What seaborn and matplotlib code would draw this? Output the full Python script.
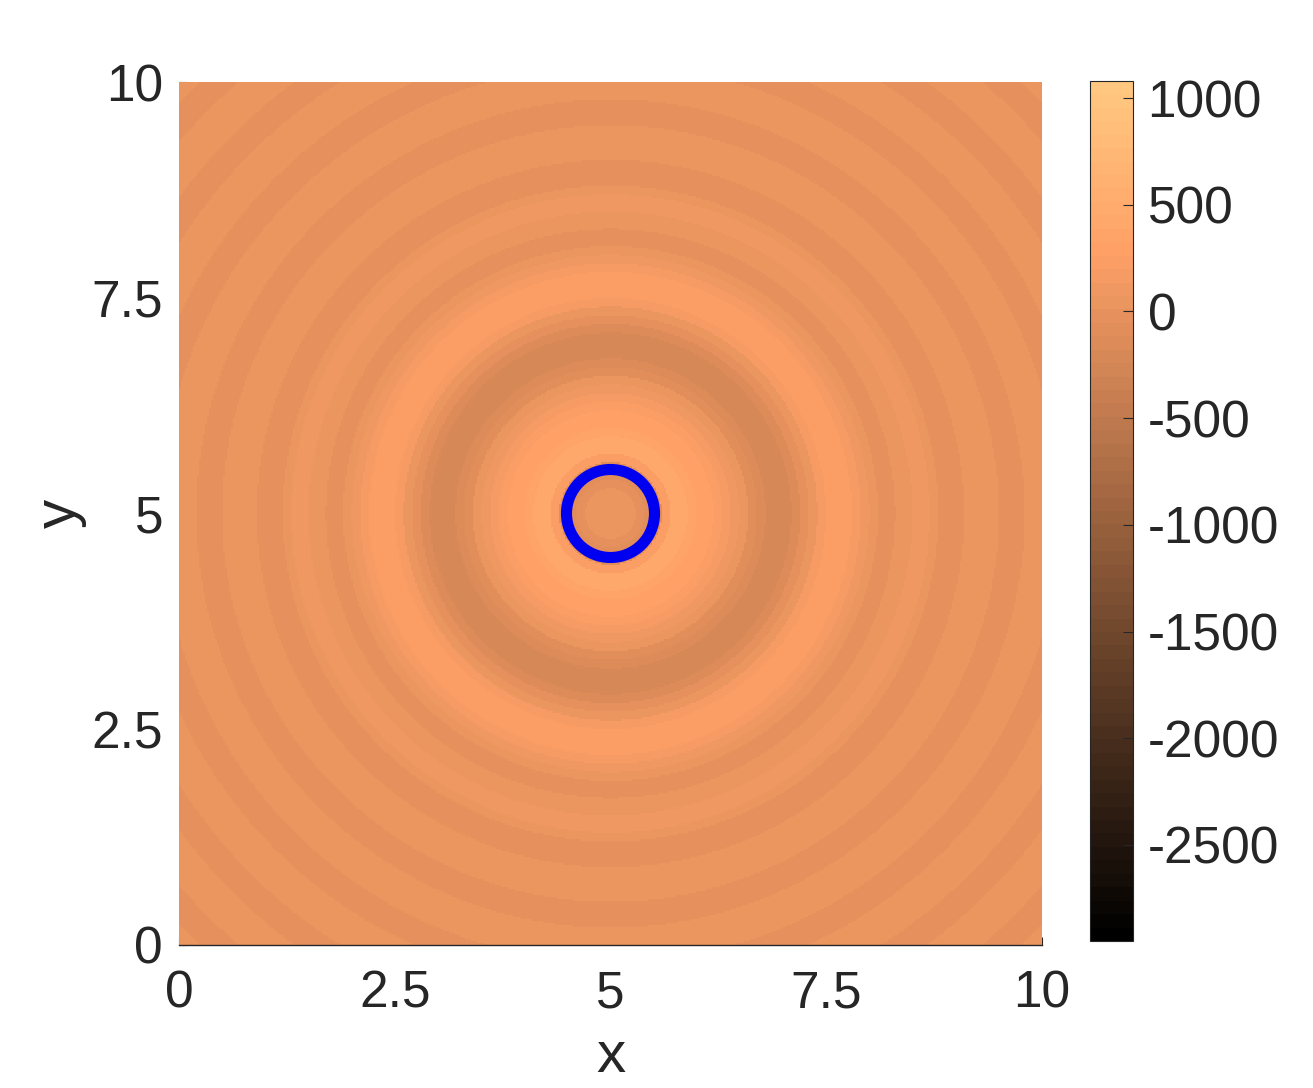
import matplotlib
matplotlib.use('Agg')

import matplotlib.pyplot as plt
from matplotlib.patches import Circle
import numpy as np
import seaborn as sns

# field value by distance from the centre, one entry per ring
ring_width = 0.1
ring_values = [
    60, 40, 20, -30, -100, -60, 200, 400, 430, 380,
    290, 270, 240, 170, 90, 10, -60, -120, -180, -210,
    -190, -120, -20, 60, 170, 230, 250, 240, 190, 110,
    30, -10, -10, 20, 60, 100, 100, 50, 0, -30,
    -30, 10, 50, 50, 10, -30, -30, 0, 30, 40,
    30, 10, -10, -20, -10, 20, 40, 40, 20, -10,
    -20, -10, 10, 30, 30, 10, -10, -20, -10, 10,
    30, 30,
]

axis_ticks = [0, 2.5, 5, 7.5, 10]
axis_labels = ["0", "2.5", "5", "7.5", "10"]
cbar_ticks = [-2500, -2000, -1500, -1000, -500, 0, 500, 1000]
cbar_labels = ["-2500", "-2000", "-1500", "-1000", "-500", "0", "500", "1000"]
vmin = -2950
vmax = 1080

domain = 10
centre = 5
circle_radius = 0.51

ink = "#262626"

sns.set_theme(style="ticks")
plt.rcParams['font.family'] = ['Liberation Sans', 'DejaVu Sans']

# sample the rings on a regular grid
n = 432
cell = domain / n
coords = (np.arange(n) + 0.5) * cell
xx, yy = np.meshgrid(coords, coords)
dist = np.hypot(xx - centre, yy - centre)
ring_index = np.minimum((dist / ring_width).astype(int), len(ring_values) - 1)
field = np.array(ring_values)[ring_index]

fig = plt.figure(figsize=(13.13, 10.88), dpi=100)
ax = fig.add_axes([179 / 1313, 1 - 945 / 1088, 863 / 1313, 863 / 1088])
cax = fig.add_axes([1090 / 1313, 1 - 941 / 1088, 43 / 1313, 860 / 1088])

sns.heatmap(
    field,
    ax=ax,
    cbar_ax=cax,
    cmap=plt.get_cmap("copper", 64),
    vmin=vmin,
    vmax=vmax,
    xticklabels=False,
    yticklabels=False,
    rasterized=True
)
ax.invert_yaxis()

ax.add_patch(Circle(
    (centre / cell, centre / cell),
    circle_radius / cell,
    fill=False,
    edgecolor="#0000f0",
    linewidth=8,
    zorder=3
))

ax.set_xticks([t / cell for t in axis_ticks])
ax.set_xticklabels(axis_labels)
ax.set_yticks([t / cell for t in axis_ticks])
ax.set_yticklabels(axis_labels)
ax.set_axisbelow(True)
ax.tick_params(
    axis='both', direction='in', length=6, width=0.8,
    color=ink, labelcolor=ink, labelsize=37
)
ax.tick_params(axis='x', pad=18)
ax.tick_params(axis='y', pad=11.5)
ax.set_xlabel("x", fontsize=42, color=ink, labelpad=8)
ax.set_ylabel("y", fontsize=42, color=ink, labelpad=3)

sns.despine(ax=ax, top=True, right=True, left=True, bottom=False)
ax.spines['bottom'].set_visible(True)
ax.spines['bottom'].set_color(ink)
ax.spines['bottom'].set_linewidth(1)

cbar = ax.collections[0].colorbar
cbar.set_ticks(cbar_ticks)
cbar.set_ticklabels(cbar_labels)
cbar.ax.set_axisbelow(False)
cbar.ax.tick_params(
    direction='in', length=7, width=0.8,
    color=ink, labelcolor=ink, labelsize=37, pad=10.5
)
cbar.outline.set_visible(True)
cbar.outline.set_edgecolor(ink)
cbar.outline.set_linewidth(0.8)

plt.savefig("out.png", dpi=100)
plt.close()
